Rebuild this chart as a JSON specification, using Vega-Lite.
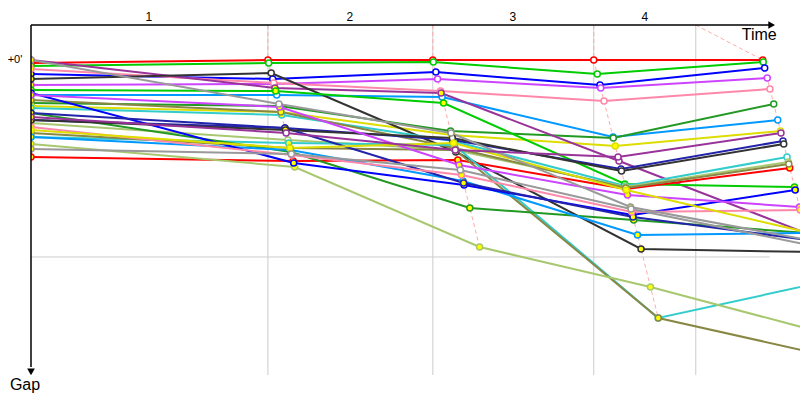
{
"$schema": "https://vega.github.io/schema/vega-lite/v6.json",
"width": 769, "height": 350,
"autosize": {"type": "none"},
"padding": {"left": 31, "top": 25, "right": 0, "bottom": 25},
"background": "white",
"config": {"view": {"stroke": null}},
"datasets": {
"grid": [{"t": 288.7, "gap": -10.66, "gap2": 95.95}, {"t": 489.6, "gap": -10.66, "gap2": 95.95}, {"t": 685.7, "gap": -10.66, "gap2": 95.95}, {"t": 810, "gap": -10.66, "gap2": 95.95}],
"hgrid": [{"t": 0, "t2": 900, "gap": 60}],
"dash": [
{"lap": 1, "k": 0, "t": 288.7, "gap": -10.66}, {"lap": 1, "k": 1, "t": 288.7, "gap": 0}, {"lap": 1, "k": 2, "t": 321.3, "gap": 32.6},
{"lap": 2, "k": 0, "t": 489.6, "gap": -10.66}, {"lap": 2, "k": 1, "t": 489.6, "gap": 0}, {"lap": 2, "k": 2, "t": 546.6, "gap": 56.96},
{"lap": 3, "k": 0, "t": 685.7, "gap": -10.66}, {"lap": 3, "k": 1, "t": 685.7, "gap": 0}, {"lap": 3, "k": 2, "t": 764.3, "gap": 78.59},
{"lap": 4, "k": 0, "t": 810, "gap": -10.66}, {"lap": 4, "k": 1, "t": 891.6, "gap": 0}, {"lap": 4, "k": 2, "t": 982.4, "gap": 90.77}
],
"riders": [
{"rider":"R01","lap":0,"t":0,"gap":0.91,"state":"pit"},{"rider":"R01","lap":1,"t":288.7,"gap":0,"state":"run"},{"rider":"R01","lap":2,"t":489.6,"gap":0,"state":"run"},{"rider":"R01","lap":3,"t":685.7,"gap":0,"state":"run"},{"rider":"R01","lap":4,"t":891.6,"gap":0,"state":"run"},
{"rider":"R02","lap":0,"t":0,"gap":1.83,"state":"pit"},{"rider":"R02","lap":1,"t":289.6,"gap":0.91,"state":"run"},{"rider":"R02","lap":2,"t":490.2,"gap":0.61,"state":"run"},{"rider":"R02","lap":3,"t":690.0,"gap":4.26,"state":"run"},{"rider":"R02","lap":4,"t":892.2,"gap":0.61,"state":"run"},
{"rider":"R03","lap":0,"t":0,"gap":4.26,"state":"pit"},{"rider":"R03","lap":1,"t":294.5,"gap":5.79,"state":"run"},{"rider":"R03","lap":2,"t":493.3,"gap":3.66,"state":"run"},{"rider":"R03","lap":3,"t":693.3,"gap":7.62,"state":"run"},{"rider":"R03","lap":4,"t":894.0,"gap":2.44,"state":"run"},
{"rider":"R04","lap":0,"t":0,"gap":7.62,"state":"pit"},{"rider":"R04","lap":1,"t":296.0,"gap":7.31,"state":"run"},{"rider":"R04","lap":2,"t":495.4,"gap":5.79,"state":"run"},{"rider":"R04","lap":3,"t":694.2,"gap":8.53,"state":"run"},{"rider":"R04","lap":4,"t":897.1,"gap":5.48,"state":"run"},
{"rider":"R05","lap":0,"t":0,"gap":2.74,"state":"pit"},{"rider":"R05","lap":1,"t":295.7,"gap":7.01,"state":"run"},{"rider":"R05","lap":2,"t":499.0,"gap":9.44,"state":"run"},{"rider":"R05","lap":3,"t":698.2,"gap":12.49,"state":"run"},{"rider":"R05","lap":4,"t":900.4,"gap":8.83,"state":"run"},
{"rider":"R06","lap":0,"t":0,"gap":10.66,"state":"pit"},{"rider":"R06","lap":1,"t":299.4,"gap":10.66,"state":"run"},{"rider":"R06","lap":2,"t":500.9,"gap":11.27,"state":"run"},{"rider":"R06","lap":3,"t":709.2,"gap":23.45,"state":"run"},{"rider":"R06","lap":4,"t":909.9,"gap":18.28,"state":"run"},
{"rider":"R07","lap":0,"t":0,"gap":13.10,"state":"pit"},{"rider":"R07","lap":1,"t":302.7,"gap":14.01,"state":"run"},{"rider":"R07","lap":2,"t":511.2,"gap":21.63,"state":"run"},{"rider":"R07","lap":3,"t":709.5,"gap":23.76,"state":"run"},{"rider":"R07","lap":4,"t":905.0,"gap":13.40,"state":"run"},
{"rider":"R08","lap":0,"t":0,"gap":14.01,"state":"pit"},{"rider":"R08","lap":1,"t":304.5,"gap":15.84,"state":"pit"},{"rider":"R08","lap":2,"t":512.5,"gap":22.85,"state":"pit"},{"rider":"R08","lap":3,"t":711.9,"gap":26.20,"state":"pit"},{"rider":"R08","lap":4,"t":913.2,"gap":21.63,"state":"run"},
{"rider":"R09","lap":0,"t":0,"gap":0,"state":"pit"},{"rider":"R09","lap":1,"t":297.2,"gap":8.53,"state":"pit"},{"rider":"R09","lap":2,"t":499.7,"gap":10.05,"state":"pit"},{"rider":"R09","lap":3,"t":716.5,"gap":30.76,"state":"run"},{"rider":"R09","lap":4,"t":944.3,"gap":52.70,"state":"run"},
{"rider":"R10","lap":0,"t":0,"gap":5.79,"state":"pit"},{"rider":"R10","lap":1,"t":292.7,"gap":3.96,"state":"run"},{"rider":"R10","lap":2,"t":517.6,"gap":28.02,"state":"run"},{"rider":"R10","lap":3,"t":743.3,"gap":57.57,"state":"pit"},{"rider":"R10","lap":4,"t":950.1,"gap":58.48,"state":"pit"},
{"rider":"R11","lap":0,"t":0,"gap":9.14,"state":"pit"},{"rider":"R11","lap":1,"t":298.1,"gap":9.44,"state":"pit"},{"rider":"R11","lap":2,"t":502.7,"gap":13.10,"state":"pit"},{"rider":"R11","lap":3,"t":723.5,"gap":37.77,"state":"pit"},{"rider":"R11","lap":4,"t":930.3,"gap":38.68,"state":"pit"},
{"rider":"R12","lap":0,"t":0,"gap":29.55,"state":"pit"},{"rider":"R12","lap":1,"t":319.5,"gap":30.76,"state":"pit"},{"rider":"R12","lap":2,"t":520.1,"gap":30.46,"state":"pit"},{"rider":"R12","lap":3,"t":725.0,"gap":39.29,"state":"pit"},{"rider":"R12","lap":4,"t":924.5,"gap":32.90,"state":"pit"},
{"rider":"R13","lap":0,"t":0,"gap":14.62,"state":"pit"},{"rider":"R13","lap":1,"t":305.5,"gap":16.75,"state":"pit"},{"rider":"R13","lap":2,"t":514.3,"gap":24.67,"state":"pit"},{"rider":"R13","lap":3,"t":724.1,"gap":38.38,"state":"run"},{"rider":"R13","lap":4,"t":921.2,"gap":29.55,"state":"run"},
{"rider":"R14","lap":0,"t":0,"gap":19.19,"state":"pit"},{"rider":"R14","lap":1,"t":313.1,"gap":24.37,"state":"run"},{"rider":"R14","lap":2,"t":517.0,"gap":27.41,"state":"run"},{"rider":"R14","lap":3,"t":724.4,"gap":38.68,"state":"run"},{"rider":"R14","lap":4,"t":922.7,"gap":31.07,"state":"run"},
{"rider":"R15","lap":0,"t":0,"gap":12.18,"state":"pit"},{"rider":"R15","lap":1,"t":304.5,"gap":15.84,"state":"pit"},{"rider":"R15","lap":2,"t":516.4,"gap":26.80,"state":"pit"},{"rider":"R15","lap":3,"t":724.7,"gap":38.99,"state":"run"},{"rider":"R15","lap":4,"t":923.3,"gap":31.68,"state":"run"},
{"rider":"R16","lap":0,"t":0,"gap":23.45,"state":"pit"},{"rider":"R16","lap":1,"t":314.0,"gap":25.28,"state":"pit"},{"rider":"R16","lap":2,"t":515.5,"gap":25.89,"state":"pit"},{"rider":"R16","lap":3,"t":764.3,"gap":78.59,"state":"pit"},{"rider":"R16","lap":4,"t":959.5,"gap":67.93,"state":"run"},
{"rider":"R17","lap":0,"t":0,"gap":22.24,"state":"pit"},{"rider":"R17","lap":1,"t":315.5,"gap":26.80,"state":"pit"},{"rider":"R17","lap":2,"t":517.0,"gap":27.41,"state":"run"},{"rider":"R17","lap":3,"t":764.3,"gap":78.59,"state":"pit"},{"rider":"R17","lap":4,"t":982.4,"gap":90.77,"state":"run"},
{"rider":"R18","lap":0,"t":0,"gap":25.59,"state":"pit"},{"rider":"R18","lap":1,"t":321.3,"gap":32.59,"state":"pit"},{"rider":"R18","lap":2,"t":546.6,"gap":56.96,"state":"pit"},{"rider":"R18","lap":3,"t":754.8,"gap":69.14,"state":"pit"},{"rider":"R18","lap":4,"t":975.4,"gap":83.77,"state":"pit"},
{"rider":"R19","lap":0,"t":0,"gap":16.14,"state":"pit"},{"rider":"R19","lap":1,"t":316.7,"gap":28.02,"state":"run"},{"rider":"R19","lap":2,"t":534.7,"gap":45.08,"state":"pit"},{"rider":"R19","lap":3,"t":734.4,"gap":48.74,"state":"pit"},{"rider":"R19","lap":4,"t":944.3,"gap":52.70,"state":"pit"},
{"rider":"R20","lap":0,"t":0,"gap":23.45,"state":"pit"},{"rider":"R20","lap":1,"t":316.1,"gap":27.41,"state":"pit"},{"rider":"R20","lap":2,"t":526.5,"gap":36.86,"state":"pit"},{"rider":"R20","lap":3,"t":739.0,"gap":53.31,"state":"pit"},{"rider":"R20","lap":4,"t":944.3,"gap":52.70,"state":"pit"},
{"rider":"R21","lap":0,"t":0,"gap":10.05,"state":"pit"},{"rider":"R21","lap":1,"t":320.1,"gap":31.37,"state":"pit"},{"rider":"R21","lap":2,"t":527.7,"gap":38.08,"state":"pit"},{"rider":"R21","lap":3,"t":732.9,"gap":47.21,"state":"pit"},{"rider":"R21","lap":4,"t":931.2,"gap":39.60,"state":"pit"},
{"rider":"R22","lap":0,"t":0,"gap":16.14,"state":"pit"},{"rider":"R22","lap":1,"t":309.4,"gap":20.71,"state":"pit"},{"rider":"R22","lap":2,"t":527.1,"gap":37.47,"state":"pit"},{"rider":"R22","lap":3,"t":733.5,"gap":47.82,"state":"pit"},{"rider":"R22","lap":4,"t":946.4,"gap":54.83,"state":"run"},
{"rider":"R23","lap":0,"t":0,"gap":18.28,"state":"pit"},{"rider":"R23","lap":1,"t":309.4,"gap":20.71,"state":"pit"},{"rider":"R23","lap":2,"t":514.0,"gap":24.37,"state":"run"},{"rider":"R23","lap":3,"t":718.9,"gap":33.20,"state":"run"},{"rider":"R23","lap":4,"t":916.3,"gap":24.67,"state":"run"},
{"rider":"R24","lap":0,"t":0,"gap":18.28,"state":"pit"},{"rider":"R24","lap":1,"t":310.0,"gap":21.32,"state":"pit"},{"rider":"R24","lap":2,"t":513.4,"gap":23.76,"state":"run"},{"rider":"R24","lap":3,"t":719.5,"gap":33.81,"state":"run"},{"rider":"R24","lap":4,"t":917.2,"gap":25.59,"state":"run"},
{"rider":"R25","lap":0,"t":0,"gap":10.66,"state":"pit"},{"rider":"R25","lap":1,"t":303.0,"gap":14.32,"state":"pit"},{"rider":"R25","lap":2,"t":521.6,"gap":31.98,"state":"pit"},{"rider":"R25","lap":3,"t":726.8,"gap":41.12,"state":"pit"},{"rider":"R25","lap":4,"t":936.4,"gap":44.78,"state":"pit"},
{"rider":"R26","lap":0,"t":0,"gap":20.41,"state":"pit"},{"rider":"R26","lap":1,"t":317.6,"gap":28.94,"state":"run"},{"rider":"R26","lap":2,"t":524.6,"gap":35.03,"state":"pit"},{"rider":"R26","lap":3,"t":732.0,"gap":46.30,"state":"pit"},{"rider":"R26","lap":4,"t":937.3,"gap":45.69,"state":"pit"},
{"rider":"R27","lap":0,"t":0,"gap":21.32,"state":"pit"},{"rider":"R27","lap":1,"t":315.5,"gap":26.80,"state":"pit"},{"rider":"R27","lap":2,"t":514.9,"gap":25.28,"state":"pit"},{"rider":"R27","lap":3,"t":725.3,"gap":39.60,"state":"pit"},{"rider":"R27","lap":4,"t":944.0,"gap":52.39,"state":"pit"},
{"rider":"R28","lap":0,"t":0,"gap":0,"state":"pit"},{"rider":"R28","lap":1,"t":302.1,"gap":13.40,"state":"run"},{"rider":"R28","lap":2,"t":511.8,"gap":22.24,"state":"run"},{"rider":"R28","lap":3,"t":730.5,"gap":44.78,"state":"pit"},{"rider":"R28","lap":4,"t":946.4,"gap":54.83,"state":"run"},
{"rider":"R29","lap":0,"t":0,"gap":27.11,"state":"pit"},{"rider":"R29","lap":1,"t":317.3,"gap":28.63,"state":"run"},{"rider":"R29","lap":2,"t":523.1,"gap":33.51,"state":"run"},{"rider":"R29","lap":3,"t":731.1,"gap":45.39,"state":"run"},{"rider":"R29","lap":4,"t":948.0,"gap":56.35,"state":"run"},
{"rider":"R30","lap":0,"t":0,"gap":17.36,"state":"pit"},{"rider":"R30","lap":1,"t":310.9,"gap":22.24,"state":"run"},{"rider":"R30","lap":2,"t":517.0,"gap":27.41,"state":"run"},{"rider":"R30","lap":3,"t":715.3,"gap":29.55,"state":"run"},{"rider":"R30","lap":4,"t":913.8,"gap":22.24,"state":"run"}
],
"axisline": [{"t": 0, "t2": 900, "gap": -10.66, "gap2": -10.66}, {"t": 0, "t2": 0, "gap": -10.66, "gap2": 93.5}],
"arrows": [{"t": 902.5, "gap": -10.66, "shape": "triangle-right"}, {"t": 0, "gap": 95.0, "shape": "triangle-down"}],
"laplabels": [{"t": 143.7, "gap": -13.1, "label": "1"}, {"t": 388.6, "gap": -13.1, "label": "2"}, {"t": 587.1, "gap": -13.1, "label": "3"}, {"t": 747.9, "gap": -13.1, "label": "4"}],
"ticklabels": [{"t": -19.5, "gap": 0, "label": "+0'"}]
},
"layer": [
{"data": {"name": "grid"}, "mark": {"type": "rule", "color": "#cccccc", "strokeWidth": 1},
 "encoding": {"x": {"field": "t", "type": "quantitative", "scale": {"domain": [0, 937], "nice": false, "zero": false}, "axis": null},
  "y": {"field": "gap", "type": "quantitative", "scale": {"domain": [-10.66, 95.95], "reverse": true, "nice": false, "zero": false}, "axis": null},
  "y2": {"field": "gap2"}}},
{"data": {"name": "hgrid"}, "mark": {"type": "rule", "color": "#cccccc", "strokeWidth": 1},
 "encoding": {"x": {"field": "t", "type": "quantitative"}, "x2": {"field": "t2"}, "y": {"field": "gap", "type": "quantitative"}}},
{"data": {"name": "dash"}, "mark": {"type": "line", "color": "#ffaaaa", "strokeWidth": 1, "strokeDash": [4, 3], "clip": true},
 "encoding": {"x": {"field": "t", "type": "quantitative"}, "y": {"field": "gap", "type": "quantitative"}, "detail": {"field": "lap", "type": "nominal"}, "order": {"field": "k", "type": "quantitative"}}},
{"data": {"name": "riders"}, "mark": {"type": "line", "strokeWidth": 2, "clip": true},
 "encoding": {"x": {"field": "t", "type": "quantitative"}, "y": {"field": "gap", "type": "quantitative"},
  "color": {"field": "rider", "type": "nominal", "legend": null, "scale": {"domain": ["R01","R02","R03","R04","R05","R06","R07","R08","R09","R10","R11","R12","R13","R14","R15","R16","R17","R18","R19","R20","R21","R22","R23","R24","R25","R26","R27","R28","R29","R30"], "range": ["#ff0000","#00cc00","#0000ff","#cc44ff","#ff88aa","#0099ff","#229922","#dddd00","#993399","#333333","#00cc00","#ff0000","#33cccc","#a8c870","#888844","#33cccc","#888844","#a8c870","#229922","#0099ff","#0000ff","#2222aa","#2222aa","#333333","#cc44ff","#ff88aa","#dddd00","#999999","#999999","#993399"]}},
  "order": {"field": "lap", "type": "quantitative"}}},
{"data": {"name": "riders"}, "mark": {"type": "point", "shape": "circle", "filled": true, "opacity": 1, "size": 36, "strokeWidth": 1.5, "clip": true},
 "encoding": {"x": {"field": "t", "type": "quantitative"}, "y": {"field": "gap", "type": "quantitative"},
  "fill": {"field": "state", "type": "nominal", "legend": null, "scale": {"domain": ["pit", "run"], "range": ["#ffff00", "#ffffff"]}},
  "stroke": {"field": "rider", "type": "nominal", "legend": null, "scale": {"domain": ["R01","R02","R03","R04","R05","R06","R07","R08","R09","R10","R11","R12","R13","R14","R15","R16","R17","R18","R19","R20","R21","R22","R23","R24","R25","R26","R27","R28","R29","R30"], "range": ["#ff0000","#00cc00","#0000ff","#cc44ff","#ff88aa","#0099ff","#229922","#dddd00","#993399","#333333","#00cc00","#ff0000","#33cccc","#a8c870","#888844","#33cccc","#888844","#a8c870","#229922","#0099ff","#0000ff","#2222aa","#2222aa","#333333","#cc44ff","#ff88aa","#dddd00","#999999","#999999","#993399"]}}}},
{"data": {"name": "axisline"}, "mark": {"type": "rule", "color": "#000000", "strokeWidth": 1.5},
 "encoding": {"x": {"field": "t", "type": "quantitative"}, "x2": {"field": "t2"}, "y": {"field": "gap", "type": "quantitative"}, "y2": {"field": "gap2"}}},
{"data": {"name": "arrows"}, "mark": {"type": "point", "filled": true, "color": "#000000", "size": 60, "opacity": 1},
 "encoding": {"x": {"field": "t", "type": "quantitative"}, "y": {"field": "gap", "type": "quantitative"}, "shape": {"field": "shape", "type": "nominal", "scale": null}}},
{"data": {"name": "laplabels"}, "mark": {"type": "text", "font": "Liberation Sans", "fontSize": 12, "color": "#000000", "align": "center", "baseline": "middle"},
 "encoding": {"x": {"field": "t", "type": "quantitative"}, "y": {"field": "gap", "type": "quantitative"}, "text": {"field": "label"}}},
{"data": {"name": "ticklabels"}, "mark": {"type": "text", "font": "Liberation Sans", "fontSize": 11, "color": "#000000", "align": "center", "baseline": "middle"},
 "encoding": {"x": {"field": "t", "type": "quantitative"}, "y": {"field": "gap", "type": "quantitative"}, "text": {"field": "label"}}},
{"data": {"values": [{"t": 908.6, "gap": -7.6, "label": "Time"}]}, "mark": {"type": "text", "font": "Liberation Sans", "fontSize": 16, "color": "#000000", "align": "right", "baseline": "middle"},
 "encoding": {"x": {"field": "t", "type": "quantitative"}, "y": {"field": "gap", "type": "quantitative"}, "text": {"field": "label"}}},
{"data": {"values": [{"t": -7.3, "gap": 99.0, "label": "Gap"}]}, "mark": {"type": "text", "font": "Liberation Sans", "fontSize": 16, "color": "#000000", "align": "center", "baseline": "middle"},
 "encoding": {"x": {"field": "t", "type": "quantitative"}, "y": {"field": "gap", "type": "quantitative"}, "text": {"field": "label"}}}
]
}
